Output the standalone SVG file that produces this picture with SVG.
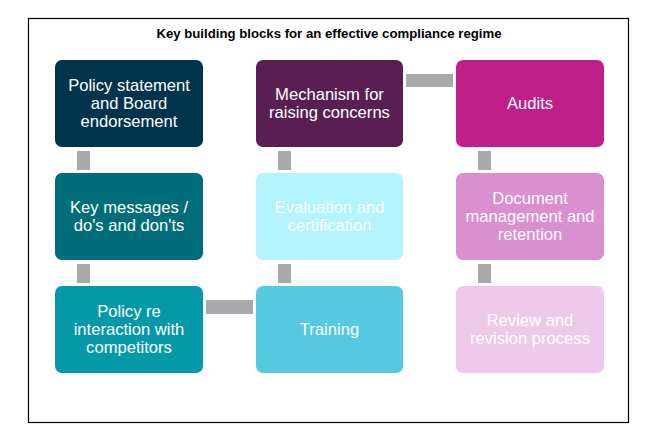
<svg xmlns="http://www.w3.org/2000/svg" width="654" height="448" viewBox="0 0 654 448">
<style>
.t{font-family:"Liberation Sans",Arial,sans-serif;font-size:16.6px;fill:#ffffff;text-anchor:middle}
.title{font-family:"Liberation Sans",Arial,sans-serif;font-size:13.2px;font-weight:bold;fill:#000;text-anchor:middle}
.c{fill:#a7a9ac}
</style>
<rect width="654" height="448" fill="#ffffff"/>
<rect x="28.5" y="18.5" width="600" height="404" fill="none" stroke="#000" stroke-width="1.2"/>
<text class="title" x="329" y="38">Key building blocks for an effective compliance regime</text>
<g id="connectors">
<rect class="c" x="77" y="151" width="13" height="19"/>
<rect class="c" x="77" y="264" width="13" height="19"/>
<rect class="c" x="278" y="151" width="13" height="19"/>
<rect class="c" x="278" y="264" width="13" height="19"/>
<rect class="c" x="478" y="151" width="13" height="19"/>
<rect class="c" x="478" y="264" width="13" height="19"/>
<rect class="c" x="206" y="300" width="47" height="14"/>
<rect class="c" x="406" y="74" width="47" height="13"/>
</g>
<g id="n1"><rect x="55" y="60" width="148" height="87" rx="7" fill="#02334d"/>
<text class="t"><tspan x="129" y="90.6">Policy statement</tspan><tspan x="129" y="109">and Board</tspan><tspan x="129" y="127.4">endorsement</tspan></text></g>
<g id="n2"><rect x="55" y="173" width="148" height="87" rx="7" fill="#006e7a"/>
<text class="t"><tspan x="129" y="212.8">Key messages /</tspan><tspan x="129" y="231.2">do's and don'ts</tspan></text></g>
<g id="n3"><rect x="55" y="286" width="148" height="87" rx="7" fill="#0599a8"/>
<text class="t"><tspan x="129" y="316.6">Policy re</tspan><tspan x="129" y="335">interaction with</tspan><tspan x="129" y="353.4">competitors</tspan></text></g>
<g id="n4"><rect x="256" y="60" width="147" height="87" rx="7" fill="#5a1f52"/>
<text class="t"><tspan x="329.5" y="99.8">Mechanism for</tspan><tspan x="329.5" y="118.2">raising concerns</tspan></text></g>
<g id="n5"><rect x="256" y="173" width="147" height="87" rx="7" fill="#b4f4fd"/>
<text class="t"><tspan x="329.5" y="212.8">Evaluation and</tspan><tspan x="329.5" y="231.2">certification</tspan></text></g>
<g id="n6"><rect x="256" y="286" width="147" height="87" rx="7" fill="#55c9e0"/>
<text class="t"><tspan x="329.5" y="335">Training</tspan></text></g>
<g id="n7"><rect x="456" y="60" width="148" height="87" rx="7" fill="#c01f8a"/>
<text class="t"><tspan x="530" y="109">Audits</tspan></text></g>
<g id="n8"><rect x="456" y="173" width="148" height="87" rx="7" fill="#da8fcf"/>
<text class="t"><tspan x="530" y="203.6">Document</tspan><tspan x="530" y="222">management and</tspan><tspan x="530" y="240.4">retention</tspan></text></g>
<g id="n9"><rect x="456" y="286" width="148" height="87" rx="7" fill="#eecaea"/>
<text class="t"><tspan x="530" y="325.8">Review and</tspan><tspan x="530" y="344.2">revision process</tspan></text></g>
</svg>
